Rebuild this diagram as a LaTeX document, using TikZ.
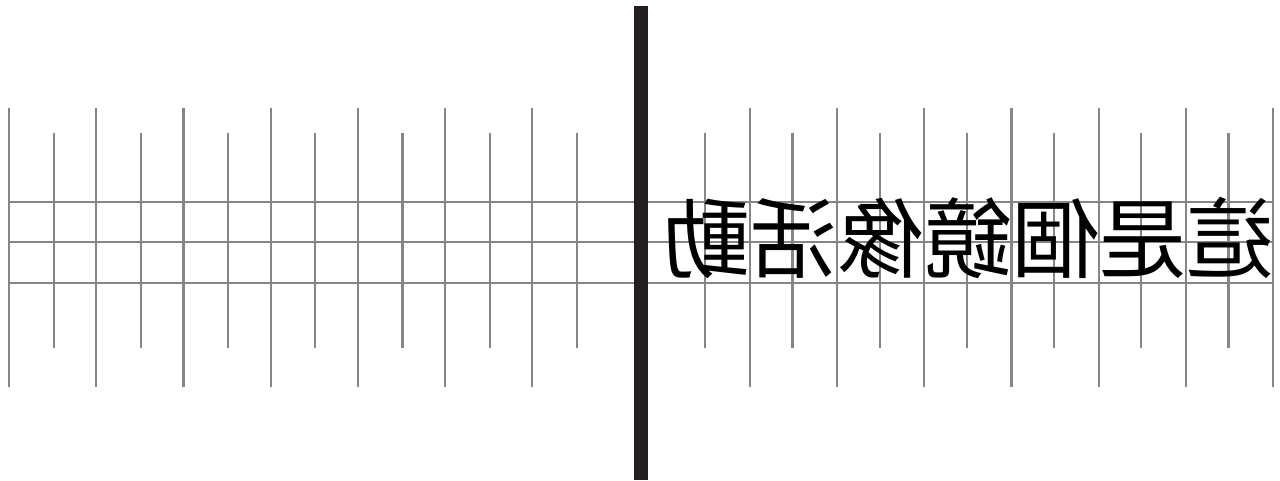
\documentclass[tikz,border=0pt]{standalone}
\usepackage{fontspec}
\newfontfamily\tcfont{Noto Sans CJK TC}
\definecolor{gridgray}{HTML}{868686}
\definecolor{mirrorbar}{HTML}{231F20}
\tikzset{
  gridline/.style={draw=gridgray, line width=1.1pt},
  mirrorword/.style={font=\tcfont\fontsize{43.6}{44}\selectfont, inner sep=0pt, xscale=-1}
}
\begin{document}
\begin{tikzpicture}[x=0.5pt,y=-0.5pt]
  \useasboundingbox (0,0) rectangle (1280,481);
  \foreach \i in {0,...,6} {
    \draw[gridline] (9+87.2*\i,108) -- (9+87.2*\i,387);
    \draw[gridline] (53.6+87.2*\i,133) -- (53.6+87.2*\i,348);
    \draw[gridline] (1273-87.2*\i,108) -- (1273-87.2*\i,387);
    \draw[gridline] (1228.4-87.2*\i,133) -- (1228.4-87.2*\i,348);
  }
  \foreach \y in {202,242,283}
    \draw[gridline] (9,\y) -- (1273,\y);
  \fill[mirrorbar] (634,6) rectangle (648,480);
  \node[mirrorword] (mirrortext) at (968.5,238.5) {這是個鏡像活動};
\end{tikzpicture}
\end{document}
